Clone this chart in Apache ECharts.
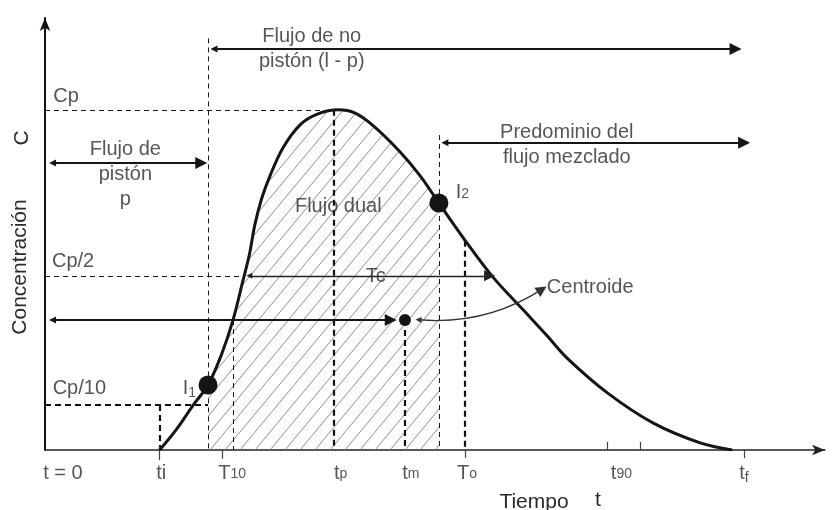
<!DOCTYPE html>
<html lang="es">
<head>
<meta charset="UTF-8">
<title>Curva de distribución de tiempos de residencia</title>
<script src="https://cdn.jsdelivr.net/npm/echarts@6/dist/echarts.min.js"></script>
<style>
    html, body { margin: 0; padding: 0; background: #fff; }
    #chart { width: 832px; height: 510px; }
</style>
</head>
<body>
<div id="chart"></div>
<script>
    // curva C(t) (Cp = 100)
    let curveT = [14.7, 16.8, 19.0, 20.9, 22.6, 24.1, 25.4, 26.2, 26.9, 27.8, 28.9, 30.5, 32.7, 35.0, 37.6, 39.7, 42.1, 45.5, 48.1, 50.5, 53.9, 57.4, 61.3, 64.4, 66.9, 72.1, 78.0, 84.0, 88.1];
    let curveC = [0, 5.9, 13.2, 19.1, 27.9, 38.2, 50.0, 57.4, 66.2, 74.1, 80.9, 88.8, 95.6, 98.8, 100, 99.1, 95.3, 87.7, 80.6, 72.6, 61.5, 50.9, 41.2, 33.5, 27.1, 16.8, 7.9, 2.1, 0];

    // niveles y tiempos característicos
    let Cp = 100, Cp2 = 51.2, Cp10 = 13.2, cCentroide = 38.2;
    let ti = 14.7, tI1 = 20.9, t10 = 24.1, tp = 37.05, tm = 46.15, tI2 = 50.5, To = 53.85;
    let cI1 = 19.1, cI2 = 72.6, cTo = 61.5;

    // etiquetas del eje de tiempo
    let tickLabels = ['t = 0', 'ti', '{n|T}{s|10}', '{n|t}{s|p}', '{n|t}{s|m}', '{n|T}{s|o}', '{n|t}{s|90}', '{n|t}{f|f}'];
    let tickLabelT = [2.3, 14.9, 24.0, 37.9, 46.9, 54.1, 73.9, 89.6];
    let tickLabelC = -6.8;
    // marcas cortas: [t, desde, hasta]
    let tickMarks = [[14.7, 1, -3], [22.7, 0, -2.6], [53.85, 0, -2.3], [72.05, 0, 2.4], [76.3, 0, 2.4], [89.7, 0, -2.4]];

    // líneas discontinuas [t1, c1, t2, c2]
    let dashedThin = [[0, Cp, tp, Cp], [0, Cp2, 25.5, Cp2], [tI1, 121, tI1, 0], [t10, cCentroide, t10, 0], [tI2, 92.6, tI2, 0]];
    let dashedBold = [[tp, Cp, tp, 0], [tm, cCentroide, tm, 0], [To, cTo, To, 0], [0, Cp10, tI1, Cp10], [ti, Cp10, ti, 0]];

    // flechas dobles [t1, c1, t2, c2]
    let arrowsBold = [[tI1, 117.9, 89.3, 117.9], [0.2, 84.4, 20.8, 84.4], [tI2, 90.3, 90.4, 90.3], [0.2, cCentroide, 45.1, cCentroide]];
    let arrowsThin = [[25.5, Cp2, 57.7, Cp2]];
    let arrowCentroide = [47.2, 37.9, 64.4, 47.6];

    // puntos
    let dotT = [tI1, tI2, tm];
    let dotC = [cI1, cI2, cCentroide];
    let dotSize = [19, 19, 12];

    // textos
    let noteText = ['Flujo de no\npistón (l - p)', 'Flujo de\npistón\np', 'Predominio del\nflujo mezclado', 'Flujo dual', 'Tc', '{n|I}{s|2}', '{n|I}{f|1}', 'Centroide', 'Cp', 'Cp/2', 'Cp/10'];
    let noteT = [34.2, 10.3, 66.9, 37.6, 42.4, 53.5, 18.5, 69.9, 2.7, 3.6, 4.4];
    let noteC = [117.9, 80.9, 89.7, 71.5, 50.9, 75.6, 18.2, 47.9, 103.8, 55.3, 18.2];

    const FONT = '"Liberation Sans", Arial, sans-serif';
    const INK = '#151515';
    const TXT = '#2b2b2b';
    const HEAD_BOLD = [7, 12];
    const HEAD_THIN = [6, 11];

    function hatchPattern() {
        let w = 15, h = 18;
        let c = document.createElement('canvas');
        c.width = w; c.height = h;
        let ctx = c.getContext('2d');
        ctx.strokeStyle = '#8c8c8c';
        ctx.lineWidth = 1;
        ctx.beginPath();
        for (let k = -1; k <= 1; k++) {
            ctx.moveTo(k * w, h);
            ctx.lineTo(k * w + w, 0);
        }
        ctx.stroke();
        return c;
    }

    let curve = curveT.map((t, i) => [t, curveC[i]]);
    let hatched = curve.filter(p => p[0] >= tI1 && p[0] <= tI2);
    const seg = s => ({ coords: [[s[0], s[1]], [s[2], s[3]]] });

    let rich = {
        n: { fontSize: 20, fontFamily: FONT, color: TXT, lineHeight: 22 },
        s: { fontSize: 14, fontFamily: FONT, color: TXT, lineHeight: 14, verticalAlign: 'bottom', padding: [0, 0, 3, 0] },
        f: { fontSize: 14, fontFamily: FONT, color: TXT, lineHeight: 14, verticalAlign: 'bottom', padding: [0, 0, -1, 0] }
    };

    let myChart = echarts.init(document.getElementById('chart'));
    let option = {
        animation: false,
        backgroundColor: '#fff',
        grid: { left: 45, right: 7, top: 18, bottom: 60, containLabel: false, outerBoundsMode: 'none' },
        xAxis: {
            type: 'value', min: 0, max: 100,
            axisLine: { show: true, onZero: false, symbol: ['none', 'arrow'], symbolSize: [8, 13], lineStyle: { color: '#222', width: 1.5 } },
            axisTick: { show: false }, axisLabel: { show: false }, splitLine: { show: false }
        },
        yAxis: {
            type: 'value', min: 0, max: 127,
            axisLine: { show: true, onZero: false, symbol: ['none', 'arrow'], symbolSize: [8, 13], lineStyle: { color: '#111', width: 2 } },
            axisTick: { show: false }, axisLabel: { show: false }, splitLine: { show: false }
        },
        graphic: [
            { type: 'text', x: 20, y: 267, rotation: Math.PI / 2, style: { text: 'Concentración', fontSize: 21, fontFamily: FONT, fill: TXT, align: 'center', verticalAlign: 'middle' } },
            { type: 'text', x: 22, y: 138, rotation: Math.PI / 2, style: { text: 'C', fontSize: 21, fontFamily: FONT, fill: TXT, align: 'center', verticalAlign: 'middle' } },
            { type: 'text', x: 534, y: 502, style: { text: 'Tiempo', fontSize: 21, fontFamily: FONT, fill: TXT, align: 'center', verticalAlign: 'middle' } },
            { type: 'text', x: 598, y: 500, style: { text: 't', fontSize: 21, fontFamily: FONT, fill: TXT, align: 'center', verticalAlign: 'middle' } }
        ],
        series: [
            {
                name: 'flujo dual', type: 'line', data: hatched, smooth: 0.35, symbol: 'none', z: 1,
                lineStyle: { width: 0 },
                areaStyle: { color: { image: hatchPattern(), repeat: 'repeat' }, opacity: 1 }
            },
            {
                name: 'C(t)', type: 'line', data: curve, smooth: 0.35, symbol: 'none', z: 4,
                lineStyle: { color: INK, width: 3 }
            },
            {
                name: 'guias finas', type: 'lines', coordinateSystem: 'cartesian2d', z: 3,
                data: dashedThin.map(seg), symbol: 'none',
                lineStyle: { color: '#1a1a1a', width: 1, type: [5, 4], opacity: 1 }
            },
            {
                name: 'guias gruesas', type: 'lines', coordinateSystem: 'cartesian2d', z: 3,
                data: dashedBold.map(seg), symbol: 'none',
                lineStyle: { color: '#111', width: 2.2, type: [6, 4], opacity: 1 }
            },
            {
                id: 'flechas', type: 'lines', coordinateSystem: 'cartesian2d', z: 5,
                data: arrowsBold.map(seg), symbol: ['triangle', 'triangle'], symbolSize: HEAD_BOLD,
                lineStyle: { color: INK, width: 2, opacity: 1 }
            },
            {
                id: 'tc', type: 'lines', coordinateSystem: 'cartesian2d', z: 5,
                data: arrowsThin.map(seg), symbol: ['triangle', 'triangle'], symbolSize: HEAD_THIN,
                lineStyle: { color: '#222', width: 1.3, opacity: 1 }
            },
            {
                id: 'centroide', type: 'lines', coordinateSystem: 'cartesian2d', z: 5,
                data: [seg(arrowCentroide)], symbol: ['triangle', 'triangle'], symbolSize: HEAD_THIN,
                lineStyle: { color: '#333', width: 1.3, curveness: -0.17, opacity: 1 }
            },
            {
                name: 'marcas', type: 'lines', coordinateSystem: 'cartesian2d', z: 3, clip: false,
                data: tickMarks.map(m => seg([m[0], m[1], m[0], m[2]])), symbol: 'none',
                lineStyle: { color: '#444', width: 1.2, opacity: 1 }
            },
            {
                name: 'puntos', type: 'scatter', z: 6,
                data: dotT.map((t, i) => ({ value: [t, dotC[i]], symbolSize: dotSize[i] })),
                itemStyle: { color: INK, opacity: 1 }
            },
            {
                name: 'textos', type: 'scatter', z: 7, symbolSize: 0, clip: false, silent: true,
                data: noteT.map((t, i) => ({ value: [t, noteC[i]], name: noteText[i] })),
                label: {
                    show: true, position: 'inside', formatter: p => p.name,
                    fontSize: 20, fontFamily: FONT, color: TXT, lineHeight: 25, rich: rich
                }
            },
            {
                name: 'etiquetas t', type: 'scatter', z: 7, symbolSize: 0, clip: false, silent: true,
                data: tickLabelT.map((t, i) => ({ value: [t, tickLabelC], name: tickLabels[i] })),
                label: {
                    show: true, position: 'inside', formatter: p => p.name,
                    fontSize: 20, fontFamily: FONT, color: TXT, rich: rich
                }
            }
        ]
    };
    myChart.setOption(option);

    // la punta del triángulo queda centrada en el extremo: se acorta cada flecha
    // media punta (en píxeles) para que la punta caiga sobre el extremo real
    function pulled(s, d) {
        let g = { gridIndex: 0 };
        let a = myChart.convertToPixel(g, [s[0], s[1]]);
        let b = myChart.convertToPixel(g, [s[2], s[3]]);
        let dx = b[0] - a[0], dy = b[1] - a[1];
        let len = Math.hypot(dx, dy);
        let ux = dx / len, uy = dy / len;
        return {
            coords: [
                myChart.convertFromPixel(g, [a[0] + ux * d, a[1] + uy * d]),
                myChart.convertFromPixel(g, [b[0] - ux * d, b[1] - uy * d])
            ]
        };
    }

    myChart.setOption({
        series: [
            { id: 'flechas', data: arrowsBold.map(s => pulled(s, HEAD_BOLD[1] / 2)) },
            { id: 'tc', data: arrowsThin.map(s => pulled(s, HEAD_THIN[1] / 2)) },
            { id: 'centroide', data: [pulled(arrowCentroide, HEAD_THIN[1] / 2)] }
        ]
    });
</script>
</body>
</html>
